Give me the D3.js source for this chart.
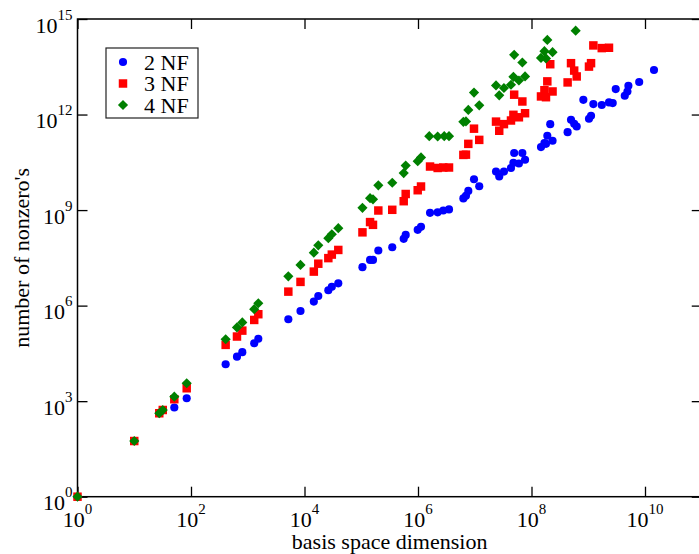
<!DOCTYPE html>
<html>
<head>
<meta charset="utf-8">
<script src="https://cdn.jsdelivr.net/npm/d3@7"></script>
<style>
  body { margin: 0; background: #fff; }
  svg { display: block; }
  text { font-family: "Liberation Serif", "Times New Roman", serif; fill: #000; }
</style>
</head>
<body>
<svg id="chart" width="699" height="554"></svg>
<script>
// basis space dimension and number of nonzero's, one pair of arrays per series
const dim2 = [1, 10, 27.6, 31.8, 50.8, 84, 408, 646, 802, 1300, 1535, 5190, 8500,
  1.46e4, 1.75e4, 2.63e4, 3.03e4, 3.94e4, 1.05e5, 1.43e5, 1.61e5, 2.0e5, 3.52e5,
  5.6e5, 6.07e5, 9.88e5, 1.13e6, 1.63e6, 2.22e6, 2.79e6, 3.52e6, 6.3e6, 7.0e6,
  7.7e6, 9.7e6, 1.2e7, 2.37e7, 2.7e7, 3.27e7, 4.35e7, 4.8e7, 4.95e7, 6.0e7, 6.9e7,
  7.7e7, 1.47e8, 1.69e8, 1.8e8, 1.9e8, 2.14e8, 2.35e8, 4.33e8, 4.97e8, 5.65e8,
  6.26e8, 8.2e8, 1.03e9, 1.12e9, 1.23e9, 1.73e9, 2.32e9, 2.7e9, 3.05e9, 4.4e9,
  4.9e9, 5.1e9, 7.9e9, 1.44e10];
const nnz2 = [1, 56, 417, 528, 630, 1230, 1.44e4, 2.5e4, 3.45e4, 6.6e4, 9.1e4, 3.72e5, 6.8e5,
  1.34e6, 2.0e6, 3.05e6, 3.9e6, 5.0e6, 1.61e7, 2.73e7, 2.73e7, 5.4e7, 6.8e7,
  1.25e8, 1.66e8, 2.4e8, 2.97e8, 8.2e8, 8.5e8, 9.7e8, 1.05e9, 2.33e9, 2.8e9,
  4.0e9, 9.3e9, 5.6e9, 1.62e10, 1.13e10, 1.62e10, 2.1e10, 3.05e10, 6.2e10, 2.9e10, 6.2e10,
  3.8e10, 9.5e10, 1.27e11, 1.2e11, 2.15e11, 5.0e11, 1.5e11, 2.8e11, 6.8e11, 5.1e11,
  4.2e11, 2.9e12, 7.4e11, 9.1e11, 2.13e12, 2.0e12, 2.4e12, 2.29e12, 6.3e12, 3.9e12,
  5.3e12, 8.0e12, 1.05e13, 2.5e13];

const dim3 = [1, 10, 27.6, 31.8, 50.8, 84, 408, 646, 802, 1300, 1535, 5190, 8500,
  1.46e4, 1.75e4, 2.63e4, 3.03e4, 3.94e4, 1.05e5, 1.43e5, 1.61e5, 2.0e5, 3.52e5,
  5.6e5, 6.07e5, 9.88e5, 1.13e6, 1.63e6, 2.22e6, 2.79e6, 3.52e6, 6.3e6, 7.0e6,
  7.7e6, 9.7e6, 1.2e7, 2.37e7, 2.7e7, 3.27e7, 4.35e7, 4.8e7, 4.95e7, 6.0e7, 6.9e7,
  7.7e7, 1.47e8, 1.69e8, 1.8e8, 1.9e8, 2.14e8, 2.35e8, 4.33e8, 4.97e8, 5.65e8,
  6.26e8, 1.03e9, 1.12e9, 1.23e9, 1.73e9, 2.32e9];
const nnz3 = [1, 56, 417, 528, 1150, 2540, 5.85e4, 1.07e5, 1.64e5, 3.55e5, 5.37e5, 2.75e6, 5.56e6,
  1.17e7, 2.07e7, 3.1e7, 4.0e7, 5.6e7, 2.0e8, 4.2e8, 3.44e8, 9.7e8, 1.02e9,
  1.9e9, 3.2e9, 4.2e9, 5.5e9, 2.33e10, 2.1e10, 2.17e10, 2.17e10, 5.4e10, 5.5e10,
  1.2e11, 3.6e11, 1.6e11, 6.0e11, 3.1e11, 5.0e11, 6.5e11, 9.8e11, 4.2e12, 8.2e11, 2.57e12,
  1.1e12, 3.7e12, 5.8e12, 3.5e12, 1.1e13, 3.8e13, 5.3e12, 1.02e13, 4.1e13, 2.4e13,
  1.57e13, 3.2e13, 4.1e13, 1.48e14, 1.22e14, 1.25e14];

const dim4 = [1, 10, 27.6, 31.8, 50.8, 84, 408, 646, 802, 1300, 1535, 5190, 8500,
  1.46e4, 1.75e4, 2.63e4, 3.03e4, 3.94e4, 1.05e5, 1.43e5, 1.61e5, 2.0e5, 3.52e5,
  5.6e5, 6.07e5, 9.88e5, 1.13e6, 1.58e6, 2.22e6, 2.9e6, 3.52e6, 6.3e6, 7.0e6,
  7.7e6, 9.7e6, 1.2e7, 2.37e7, 2.7e7, 3.27e7, 4.35e7, 4.8e7, 4.95e7, 6.0e7, 6.9e7,
  7.7e7, 1.47e8, 1.69e8, 1.8e8, 1.9e8, 2.35e8, 6.0e8];
const nnz4 = [1, 56, 417, 528, 1380, 3650, 8.8e4, 2.07e5, 2.96e5, 7.76e5, 1.19e6, 8.3e6, 1.9e7,
  4.6e7, 7.8e7, 1.31e8, 1.74e8, 2.7e8, 1.18e9, 2.37e9, 2.17e9, 6.0e9, 7.2e9,
  1.45e10, 2.5e10, 3.44e10, 4.5e10, 2.1e11, 2.04e11, 2.1e11, 2.1e11, 5.9e11, 6.1e11,
  1.4e12, 4.9e12, 1.95e12, 8.2e12, 4.0e12, 6.8e12, 8.6e12, 1.53e13, 7.5e13, 1.17e13, 4.3e13,
  1.57e13, 6.0e13, 9.8e13, 5.8e13, 2.2e14, 9.1e13, 4.3e14];

const seriesNames = ["2 NF", "3 NF", "4 NF"];
const seriesColors = ["#0000ff", "#ff0000", "#008000"];
const seriesShapes = [d3.symbolCircle, d3.symbolSquare, d3.symbolDiamond2];
const seriesSizes = [52, 72, 66];

const xTicks = [1e0, 1e2, 1e4, 1e6, 1e8, 1e10];
const yTicks = [1e0, 1e3, 1e6, 1e9, 1e12, 1e15];

const svg = d3.select("#chart");
const plotLeft = 77.5, plotRight = 701.75, plotTop = 19, plotBottom = 496.7;

const x = d3.scaleLog().domain([1, 1e11]).range([plotLeft, plotRight]);
const y = d3.scaleLog().domain([1, 1e15]).range([plotBottom, plotTop]);

// frame
svg.append("rect")
  .attr("x", plotLeft).attr("y", plotTop)
  .attr("width", plotRight - plotLeft).attr("height", plotBottom - plotTop)
  .attr("fill", "none").attr("stroke", "#000").attr("stroke-width", 1.5);

// inward ticks on all four sides
const tickLen = 10;
function addAxis(axis, tx, ty) {
  const g = svg.append("g").attr("transform", `translate(${tx},${ty})`).call(axis);
  g.select(".domain").remove();
  g.selectAll(".tick line").attr("stroke", "#000").attr("stroke-width", 1.3);
  g.selectAll(".tick text").remove();
}
addAxis(d3.axisBottom(x).tickValues(xTicks).tickSizeInner(-tickLen).tickSizeOuter(0), 0, plotBottom);
addAxis(d3.axisTop(x).tickValues(xTicks).tickSizeInner(-tickLen).tickSizeOuter(0), 0, plotTop);
addAxis(d3.axisLeft(y).tickValues(yTicks).tickSizeInner(-tickLen).tickSizeOuter(0), plotLeft, 0);
addAxis(d3.axisRight(y).tickValues(yTicks).tickSizeInner(-tickLen).tickSizeOuter(0), plotRight, 0);

// tick labels 10^n
function powLabel(sel) {
  sel.append("tspan").attr("font-size", 22).text("10");
  sel.append("tspan").attr("font-size", 15).attr("dy", -13)
    .text(d => Math.round(Math.log10(d)));
}
svg.append("g").selectAll("text").data(xTicks).join("text")
  .attr("x", d => x(d)).attr("y", plotBottom + 30.5)
  .attr("text-anchor", "middle")
  .call(powLabel);
svg.append("g").selectAll("text").data(yTicks).join("text")
  .attr("x", plotLeft - 5).attr("y", d => y(d) + 13.5)
  .attr("text-anchor", "end")
  .call(powLabel);

// axis titles
svg.append("text")
  .attr("x", (plotLeft + plotRight) / 2).attr("y", 548.5)
  .attr("text-anchor", "middle").attr("font-size", 22)
  .text("basis space dimension");
svg.append("text")
  .attr("transform", `translate(29,${(plotTop + plotBottom) / 2}) rotate(-90)`)
  .attr("text-anchor", "middle").attr("font-size", 22)
  .text("number of nonzero's");

// points
const allSeries = [[dim2, nnz2], [dim3, nnz3], [dim4, nnz4]];
allSeries.forEach(([dims, nnz], i) => {
  const sym = d3.symbol().type(seriesShapes[i]).size(seriesSizes[i]);
  svg.append("g").selectAll("path").data(dims).join("path")
    .attr("transform", (d, k) => `translate(${x(d)},${y(nnz[k])})`)
    .attr("d", sym)
    .attr("fill", seriesColors[i]);
});

// legend
const legend = svg.append("g");
legend.append("rect")
  .attr("x", 106).attr("y", 48).attr("width", 92).attr("height", 70)
  .attr("fill", "#fff").attr("stroke", "#222").attr("stroke-width", 1.2);
seriesNames.forEach((name, i) => {
  const ly = 62 + i * 21.5;
  legend.append("path")
    .attr("transform", `translate(123,${ly})`)
    .attr("d", d3.symbol().type(seriesShapes[i]).size(seriesSizes[i]))
    .attr("fill", seriesColors[i]);
  legend.append("text")
    .attr("x", 144).attr("y", ly + 7.5)
    .attr("font-size", 22)
    .text(name);
});
</script>
</body>
</html>
